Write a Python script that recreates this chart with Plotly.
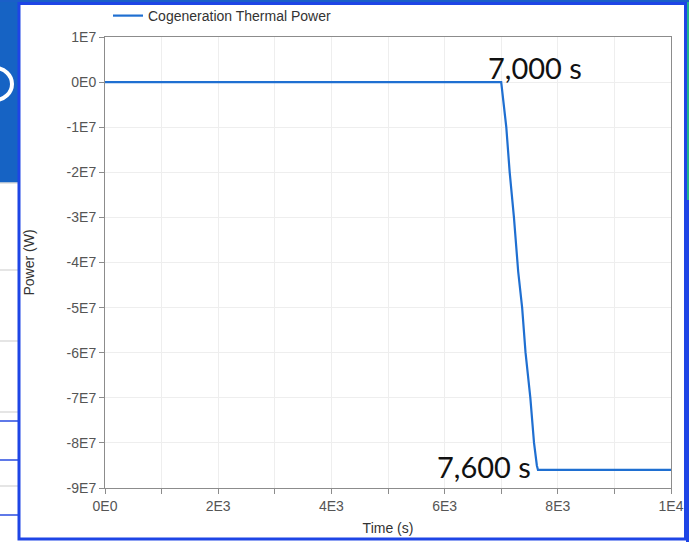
import plotly.graph_objects as go

# ---- data ----
time_s = [0, 7000, 7090, 7150, 7225, 7300, 7370, 7430, 7515, 7580, 7630, 7650, 10000]
power_w = [0, 0, -1.0e7, -2.0e7, -3.0e7, -4.2e7, -5.0e7, -6.0e7, -7.0e7, -8.0e7, -8.5e7, -8.6e7, -8.6e7]
series_name = "Cogeneration Thermal Power"

x_tickvals = [0, 2000, 4000, 6000, 8000, 10000]
x_ticktext = ["0E0", "2E3", "4E3", "6E3", "8E3", "1E4"]
y_tickvals = [1e7, 0, -1e7, -2e7, -3e7, -4e7, -5e7, -6e7, -7e7, -8e7, -9e7]
y_ticktext = ["1E7", "0E0", "-1E7", "-2E7", "-3E7", "-4E7", "-5E7", "-6E7", "-7E7", "-8E7", "-9E7"]

annot_text = ["7,000 s", "7,600 s"]
annot_x = [7600, 6700]
annot_y = [3.3e6, -8.52e7]

W, H = 689, 542
L, R, T, B = 105, 18, 37, 54
PW, PH = W - L - R, H - T - B


def px(x):
    return (x - L) / PW


def py(y):
    return (H - B - y) / PH


fig = go.Figure()
fig.add_trace(go.Scatter(x=time_s, y=power_w, mode="lines", name=series_name,
                         line=dict(color="#1f6fd1", width=2.2)))

for t, xx, yy in zip(annot_text, annot_x, annot_y):
    fig.add_annotation(x=xx, y=yy, xref="x", yref="y", text=t, showarrow=False,
                       font=dict(family="Lato, 'Noto Sans', sans-serif", size=29, color="#111"),
                       xanchor="center", yanchor="middle")

# background decoration (slide behind the screenshot)
shapes = []
BLUE = "#1e45e6"
shapes.append(dict(type="rect", xref="paper", yref="paper", x0=px(-5), x1=px(18), y0=py(183), y1=py(-5),
                   fillcolor="#1663c4", line=dict(width=0), layer="below"))
shapes.append(dict(type="circle", xref="paper", yref="paper", x0=px(-22), x1=px(12), y0=py(100), y1=py(68),
                   fillcolor="rgba(0,0,0,0)", line=dict(color="white", width=4), layer="below"))
for gy in [183, 270, 341, 412, 486]:
    shapes.append(dict(type="line", xref="paper", yref="paper", x0=px(0), x1=px(18), y0=py(gy), y1=py(gy),
                       line=dict(color="#dcdcdc", width=1.5), layer="below"))
for by in [421, 460, 515]:
    shapes.append(dict(type="line", xref="paper", yref="paper", x0=px(0), x1=px(18), y0=py(by), y1=py(by),
                       line=dict(color="#2a4de0", width=1.5), layer="below"))
shapes.append(dict(type="rect", xref="paper", yref="paper", x0=px(686), x1=px(692), y0=py(200), y1=py(-5),
                   fillcolor="#22b58c", line=dict(width=0), layer="below"))
shapes.append(dict(type="rect", xref="paper", yref="paper", x0=px(686), x1=px(692), y0=py(545), y1=py(200),
                   fillcolor=BLUE, line=dict(width=0), layer="below"))
shapes.append(dict(type="rect", xref="paper", yref="paper", x0=px(-5), x1=px(692), y0=py(2), y1=py(-5),
                   fillcolor="#1a5fc8", line=dict(width=0), layer="below"))
shapes.append(dict(type="rect", xref="paper", yref="paper", x0=px(19), x1=px(685.5), y0=py(539), y1=py(3.5),
                   fillcolor="rgba(0,0,0,0)", line=dict(color=BLUE, width=3), layer="below"))

tickfont = dict(family="Liberation Sans, Arial, sans-serif", size=14, color="#555")
axis_common = dict(showline=True, linecolor="#8c8c8c", linewidth=1, mirror=True,
                   ticks="outside", ticklen=5, tickcolor="#8c8c8c", tickfont=tickfont,
                   showgrid=True, gridcolor="#eeeeee", gridwidth=1, zeroline=False,
                   automargin=False)

fig.update_layout(
    width=W, height=H,
    margin=dict(l=L, r=R, t=T, b=B, pad=0, autoexpand=False),
    paper_bgcolor="white", plot_bgcolor="white",
    shapes=shapes,
    showlegend=True,
    legend=dict(orientation="h", xref="container", yref="container",
                x=(L + 3) / W, xanchor="left", y=1, yanchor="top",
                font=dict(family="Liberation Sans, Arial, sans-serif", size=14, color="#333"),
                bgcolor="rgba(0,0,0,0)", itemwidth=30, tracegroupgap=0),
    xaxis=dict(range=[0, 10000], tickmode="array", tickvals=x_tickvals, ticktext=x_ticktext,
               minor=dict(dtick=1000, tick0=0, ticks="outside", ticklen=5, tickcolor="#8c8c8c",
                          showgrid=True, gridcolor="#eeeeee"),
               title=dict(text="Time (s)", font=dict(family="Liberation Sans, Arial, sans-serif", size=14, color="#333"),
                          standoff=10),
               **axis_common),
    yaxis=dict(range=[-9e7, 1e7], tickmode="array", tickvals=y_tickvals, ticktext=y_ticktext,
               title=dict(text="Power (W)", font=dict(family="Liberation Sans, Arial, sans-serif", size=14, color="#333"),
                          standoff=28),
               **axis_common),
)

fig.write_html("out.html")
